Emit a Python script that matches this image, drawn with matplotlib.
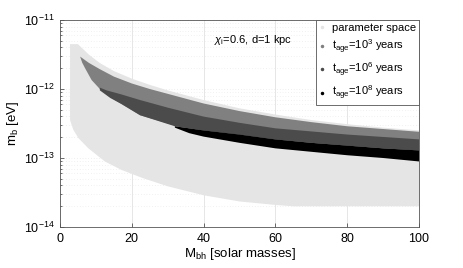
import numpy as np
import matplotlib
matplotlib.use('Agg')
import matplotlib.pyplot as plt
from matplotlib.lines import Line2D

plt.rcParams['font.family'] = ['Liberation Sans', 'DejaVu Sans']
plt.rcParams['mathtext.fontset'] = 'custom'
plt.rcParams['mathtext.rm'] = 'Liberation Sans'
plt.rcParams['mathtext.it'] = 'Liberation Sans:italic'

# boundaries: black hole mass and log10(m_b / eV)
param_top_M = [2.8, 5.0, 6, 8, 11, 15, 20, 25, 30, 40, 50, 60, 70, 80, 90, 100]
param_top_m = [-11.35, -11.35, -11.40, -11.50, -11.62, -11.74, -11.85, -11.94,
               -12.02, -12.16, -12.28, -12.37, -12.45, -12.51, -12.56, -12.60]
param_bot_M = [2.8, 3.7, 5.1, 7.9, 12.5, 17, 23, 30, 40, 50, 60, 65, 100]
param_bot_m = [-12.45, -12.59, -12.71, -12.86, -13.05, -13.17, -13.29, -13.41,
               -13.54, -13.63, -13.68, -13.70, -13.70]

t3_top_M = [5.6, 8, 11, 15, 20, 25, 30, 40, 50, 60, 70, 80, 90, 100]
t3_top_m = [-11.53, -11.62, -11.71, -11.82, -11.92, -12.00, -12.07, -12.21,
            -12.32, -12.41, -12.48, -12.54, -12.58, -12.62]
t3_bot_M = [5.6, 6.2, 7.0, 8.8, 11.1, 14, 17.2, 22.3, 32, 40, 60, 80, 100]
t3_bot_m = [-11.53, -11.62, -11.70, -11.87, -12.00, -12.12, -12.22, -12.38,
            -12.53, -12.60, -12.73, -12.82, -12.89]

t6_top_M = [11.1, 13, 17.2, 22.3, 30, 40, 50, 60, 80, 100]
t6_top_m = [-11.98, -12.02, -12.08, -12.16, -12.27, -12.40, -12.49, -12.57,
            -12.66, -12.73]
t6_bot_M = [11.1, 14, 17.2, 22.3, 32, 36, 40, 50, 60, 70, 80, 90, 100]
t6_bot_m = [-12.02, -12.13, -12.22, -12.38, -12.54, -12.57, -12.60, -12.66,
            -12.73, -12.78, -12.82, -12.86, -12.89]

t8_top_M = [32, 36, 40, 50, 60, 70, 80, 90, 100]
t8_top_m = [-12.54, -12.57, -12.60, -12.66, -12.73, -12.78, -12.82, -12.86, -12.89]
t8_bot_M = [32, 36, 40, 50, 60, 70, 80, 90, 100]
t8_bot_m = [-12.56, -12.64, -12.69, -12.78, -12.86, -12.91, -12.96, -13.00, -13.05]

labels = ['parameter space',
          r't$_{\mathregular{age}}$=10$^{\mathregular{3}}$ years',
          r't$_{\mathregular{age}}$=10$^{\mathregular{6}}$ years',
          r't$_{\mathregular{age}}$=10$^{\mathregular{8}}$ years']
colors = ['#e5e5e5', '#808080', '#4b4b4b', '#000000']

regions = [(param_top_M, param_top_m, param_bot_M, param_bot_m),
           (t3_top_M, t3_top_m, t3_bot_M, t3_bot_m),
           (t6_top_M, t6_top_m, t6_bot_M, t6_bot_m),
           (t8_top_M, t8_top_m, t8_bot_M, t8_bot_m)]

fig = plt.figure(figsize=(4.63, 2.68), dpi=100)
ax = fig.add_axes([60 / 463, 41 / 268, 359 / 463, 207 / 268])

for (tM, tm, bM, bm), c in zip(regions, colors):
    xs = np.r_[tM, bM[::-1]]
    ys = 10.0 ** np.r_[tm, bm[::-1]]
    ax.fill(xs, ys, color=c, lw=0, zorder=2)

ax.set_yscale('log')
ax.set_xlim(0, 100)
ax.set_ylim(1e-14, 1e-11)
ax.set_xticks([0, 20, 40, 60, 80, 100])
ax.set_yticks([1e-14, 1e-13, 1e-12, 1e-11])
ax.grid(True, which='major', axis='x', color='#e2e2e2', lw=0.6, zorder=0)
ax.grid(True, which='major', axis='y', color='#e0e0e0', ls=(0, (1, 3)), lw=0.5, zorder=0)
ax.grid(True, which='minor', axis='y', color='#e4e4e4', ls=(0, (1, 3)), lw=0.5, zorder=0)
ax.tick_params(which='both', direction='in', labelsize=9, colors='#333333',
               labelcolor='black', top=False, right=False)
ax.tick_params(which='major', length=3, width=0.5, pad=4)
ax.tick_params(which='minor', length=1.6, width=0.5)
for s in ax.spines.values():
    s.set_color('#555555')
    s.set_linewidth(0.6)

ax.set_xlabel(r'M$_{\mathregular{bh}}$ [solar masses]', fontsize=9.5, labelpad=1)
ax.set_ylabel(r'm$_{\mathregular{b}}$ [eV]', fontsize=9.5, labelpad=2)

ax.text(0.43, 0.935, r'$\chi_{\mathregular{i}}$=0.6, d=1 kpc', transform=ax.transAxes,
        fontsize=8, va='top', ha='left', zorder=5)

handles = [Line2D([], [], ls='none', marker='.', ms=3, color=c) for c in colors]
leg = ax.legend(handles, labels, loc='upper right', fontsize=8, frameon=True,
                fancybox=False, framealpha=1, edgecolor='#555555',
                handlelength=0.6, handletextpad=0.6, borderpad=0.25,
                labelspacing=0.45, borderaxespad=0)
leg.get_frame().set_linewidth(0.6)
leg.set_zorder(6)

fig.savefig('out.png', dpi=100)
